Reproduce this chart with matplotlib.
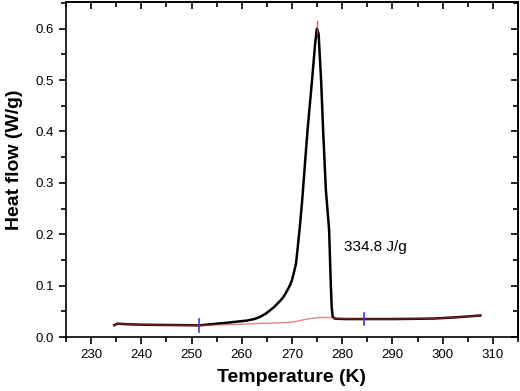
import numpy as np
import matplotlib
matplotlib.use("Agg")
import matplotlib.pyplot as plt
from matplotlib.ticker import MultipleLocator

plt.rcParams['font.family'] = ['Liberation Sans', 'DejaVu Sans']

# DSC curve (black)
temp = [234.6, 235.2, 237, 240, 245, 250, 251.5, 254, 257.7, 261, 262.5, 263.7, 264.7,
        265.7, 266.4, 267, 267.7, 268.3, 268.9, 269.3, 269.7, 270.0, 270.4, 270.8, 271.1,
        271.5, 272.0, 273.1, 274.0, 274.6, 274.96, 275.3, 275.8, 276.2, 276.75, 277.4,
        277.7, 277.9, 278.1, 278.5, 279, 281, 284.3, 290, 295, 298.2, 302, 305, 307.5]
heat = [0.023, 0.026, 0.025, 0.024, 0.0235, 0.023, 0.0227, 0.025, 0.0285, 0.032, 0.035,
        0.0395, 0.045, 0.0525, 0.058, 0.064, 0.071, 0.078, 0.088, 0.095, 0.103, 0.111,
        0.126, 0.143, 0.17, 0.208, 0.262, 0.403, 0.50, 0.57, 0.600, 0.59, 0.50, 0.403,
        0.286, 0.208, 0.111, 0.06, 0.0395, 0.036, 0.0355, 0.035, 0.035, 0.035, 0.0355,
        0.036, 0.038, 0.040, 0.042]

# integration baseline (red)
base_T = [251.5, 256, 260, 263.7, 267, 269.5, 270.6, 272, 273.6, 275.6, 277.5, 278.6, 281, 284.3]
base_v = [0.0227, 0.0238, 0.025, 0.0266, 0.0276, 0.0285, 0.030, 0.033, 0.036, 0.038, 0.038,
          0.036, 0.0355, 0.035]

# red peak tip
peak_T = [274.96, 274.96]
peak_v = [0.59, 0.615]

# integration limits (blue)
limits_T = [251.5, 284.3]
limits_v = [0.0227, 0.035]

label_text = "334.8 J/g"
label_pos = (286.6, 0.176)

fig = plt.figure(figsize=(5.2, 3.91), dpi=100)
ax = fig.add_axes([0.127, 0.138, 0.869, 0.857])

T = np.array(temp)
H = np.array(heat)
ax.plot(T, H, color='black', lw=1.8, zorder=2)

pre = T <= limits_T[0]
post = T >= limits_T[1]
red_T = np.concatenate([T[pre], base_T, T[post]])
red_v = np.concatenate([H[pre], base_v, H[post]])
ax.plot(red_T, red_v, color='#e03030', lw=1.0, alpha=0.6, zorder=3)
ax.plot(peak_T, peak_v, color='#e03030', lw=1.0, alpha=0.8, zorder=3)

for t, v in zip(limits_T, limits_v):
    ax.plot([t, t], [v - 0.012, v + 0.012], color='#3a3ae0', lw=1.2, zorder=4)

ax.text(*label_pos, label_text, fontsize=11, ha='center', va='center')

ax.set_xlim(225, 315)
ax.set_ylim(0, 0.652)
ax.xaxis.set_minor_locator(MultipleLocator(5))
ax.yaxis.set_minor_locator(MultipleLocator(0.05))
ax.set_xticks(np.arange(230, 311, 10))
ax.set_yticks(np.arange(0, 0.61, 0.1))
ax.set_yticklabels([f"{v:.1f}" for v in np.arange(0, 0.61, 0.1)])

ax.tick_params(which='both', direction='out', labelsize=9.5, width=1.2)
ax.tick_params(which='major', length=5)
ax.tick_params(which='minor', length=3.5)

top = ax.secondary_xaxis('top')
top.xaxis.set_major_locator(MultipleLocator(10))
top.xaxis.set_minor_locator(MultipleLocator(5))
top.tick_params(which='both', direction='in', labeltop=False, width=1.2)
top.tick_params(which='major', length=5)
top.tick_params(which='minor', length=3.5)
top.spines['top'].set_linewidth(1.2)
right = ax.secondary_yaxis('right')
right.yaxis.set_major_locator(MultipleLocator(0.1))
right.yaxis.set_minor_locator(MultipleLocator(0.05))
right.tick_params(which='both', direction='in', labelright=False, width=1.2)
right.tick_params(which='major', length=5)
right.tick_params(which='minor', length=3.5)
right.spines['right'].set_linewidth(1.2)
for sp in ax.spines.values():
    sp.set_linewidth(1.2)

ax.set_xlabel('Temperature (K)', fontsize=14, fontweight='bold', labelpad=6)
ax.set_ylabel('Heat flow (W/g)', fontsize=14, fontweight='bold', labelpad=8)
ax.yaxis.set_label_coords(-0.095, 0.53)

fig.savefig('out.png', dpi=100)
